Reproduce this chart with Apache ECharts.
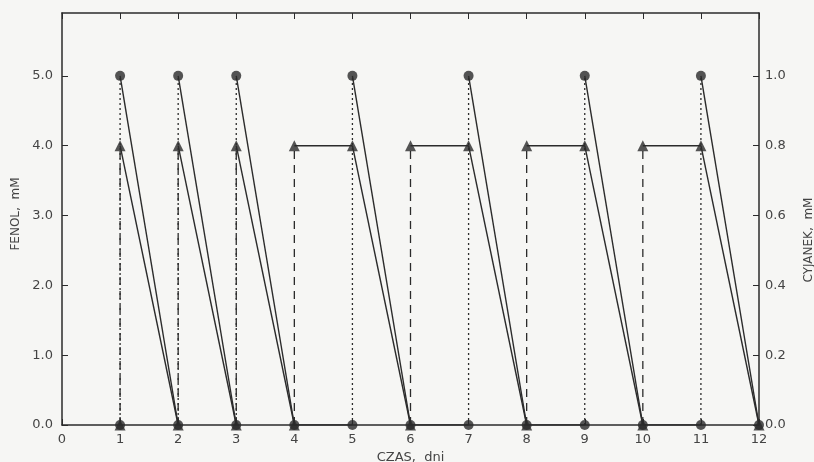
<!DOCTYPE html>
<html>
<head>
<meta charset="utf-8">
<script src="https://cdn.jsdelivr.net/npm/echarts@6/dist/echarts.min.js"></script>
<style>
  html, body { margin: 0; padding: 0; background: #f6f6f4; }
  #chart { width: 814px; height: 462px; }
</style>
</head>
<body>
<div id="chart"></div>
<script>
// dni (os X)
const days = [0, 1, 2, 3, 4, 5, 6, 7, 8, 9, 10, 11, 12]
// fenol, mM (lewa os) - [dzien, stezenie]
const phenolTrace = [
  [1, 0], [1, 5.0], [2, 0], [2, 5.0], [3, 0], [3, 5.0], [4, 0], [5, 0], [5, 5.0], [6, 0],
  [7, 0], [7, 5.0], [8, 0], [9, 0], [9, 5.0], [10, 0], [11, 0], [11, 5.0], [12, 0]
]
// cyjanek, mM (prawa os)
const cyanideTrace = [
  [1, 0], [1, 0.8], [2, 0], [2, 0.8], [3, 0], [3, 0.8], [4, 0], [4, 0.8], [5, 0.8], [6, 0],
  [6, 0.8], [7, 0.8], [8, 0], [8, 0.8], [9, 0.8], [10, 0], [10, 0.8], [11, 0.8], [12, 0]
]
const leftTicks = ['0.0', '1.0', '2.0', '3.0', '4.0', '5.0']
const rightTicks = ['0.0', '0.2', '0.4', '0.6', '0.8', '1.0']

const ink = '#2b2b2b'
const labelFont = { color: '#444', fontFamily: 'DejaVu Sans', fontSize: 13 }

// odcinki: pionowe (dozowanie) przerywane, spadki ciagle
function segments(trace, yAxisIndex, feedDash) {
  let out = []
  for (let i = 0; i < trace.length - 1; i++) {
    let a = trace[i], b = trace[i + 1]
    let vertical = a[0] === b[0]
    out.push({
      type: 'line',
      yAxisIndex: yAxisIndex,
      data: [a, b],
      showSymbol: false,
      silent: true,
      lineStyle: {
        color: ink,
        width: vertical ? 1.3 : 1.4,
        type: vertical ? feedDash : 'solid'
      },
      z: 2
    })
  }
  return out
}

let chart = echarts.init(document.getElementById('chart'))

let series = []
  .concat(segments(phenolTrace, 0, [2, 3]))
  .concat(segments(cyanideTrace, 1, [8, 6]))

series.push({
  type: 'scatter',
  yAxisIndex: 0,
  symbol: 'circle',
  symbolSize: 10,
  itemStyle: { color: ink },
  data: phenolTrace,
  z: 3
})
series.push({
  type: 'scatter',
  yAxisIndex: 1,
  symbol: 'triangle',
  symbolSize: 11,
  itemStyle: { color: ink },
  data: cyanideTrace,
  z: 4
})

let options = {
  animation: false,
  backgroundColor: '#f6f6f4',
  grid: { left: 62, right: 55, top: 13, bottom: 37, containLabel: false, outerBoundsMode: 'none' },
  xAxis: [
    {
      type: 'value',
      position: 'bottom',
      min: 0,
      max: 12,
      interval: 1,
      name: 'CZAS,  dni',
      nameLocation: 'middle',
      nameGap: 24,
      nameTextStyle: labelFont,
      axisLine: { onZero: false, lineStyle: { color: ink, width: 1.5 } },
      axisTick: { inside: true, length: 6, lineStyle: { color: ink } },
      axisLabel: Object.assign({ margin: 8, formatter: v => days.indexOf(v) >= 0 ? String(v) : '' }, labelFont),
      splitLine: { show: false }
    },
    {
      type: 'value',
      position: 'top',
      min: 0,
      max: 12,
      interval: 1,
      axisLine: { onZero: false, lineStyle: { color: ink, width: 1.5 } },
      axisTick: { inside: true, length: 6, lineStyle: { color: ink } },
      axisLabel: { show: false },
      splitLine: { show: false }
    }
  ],
  yAxis: [
    {
      type: 'value',
      position: 'left',
      min: 0,
      max: 5.9,
      interval: 1,
      name: 'FENOL,  mM',
      nameLocation: 'middle',
      nameGap: 39,
      nameRotate: 90,
      nameTextStyle: Object.assign({}, labelFont, { fontSize: 12, padding: [0, 0, 0, 10] }),
      axisLine: { show: true, onZero: false, lineStyle: { color: ink, width: 1.5 } },
      axisTick: { inside: true, length: 6, lineStyle: { color: ink } },
      axisLabel: Object.assign({
        margin: 9,
        showMaxLabel: false,
        formatter: (v, i) => leftTicks[i] || ''
      }, labelFont),
      splitLine: { show: false }
    },
    {
      type: 'value',
      position: 'right',
      min: 0,
      max: 1.18,
      interval: 0.2,
      name: 'CYJANEK,  mM',
      nameLocation: 'middle',
      nameGap: 44,
      nameRotate: 90,
      nameTextStyle: Object.assign({}, labelFont, { fontSize: 12, padding: [0, 42, 0, 0] }),
      axisLine: { show: true, onZero: false, lineStyle: { color: ink, width: 1.5 } },
      axisTick: { inside: true, length: 6, lineStyle: { color: ink } },
      axisLabel: Object.assign({
        margin: 6,
        showMaxLabel: false,
        formatter: (v, i) => rightTicks[i] || ''
      }, labelFont),
      splitLine: { show: false }
    }
  ],
  series: series
}

chart.setOption(options)
</script>
</body>
</html>
